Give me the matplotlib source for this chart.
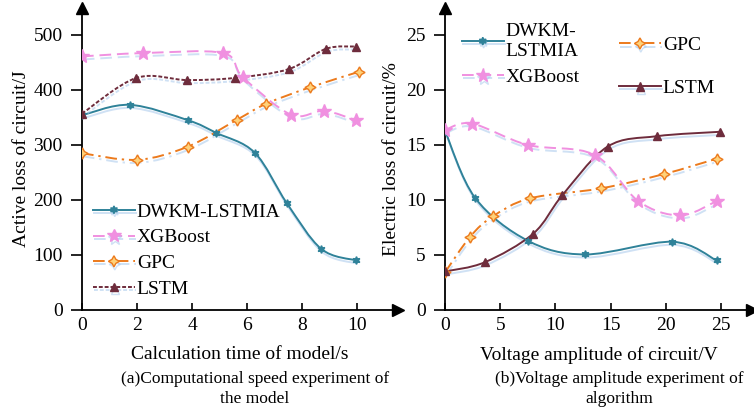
import numpy as np
import matplotlib.pyplot as plt
import matplotlib.patheffects as pe
from matplotlib.path import Path
from matplotlib.patches import PathPatch
from matplotlib.lines import Line2D

plt.rcParams['font.family'] = ['Liberation Serif', 'DejaVu Serif']
plt.rcParams['font.size'] = 14

# ---- data, panel (a): calculation time (s) vs active loss (J)
a_dwkm_x = [0, 1.73, 3.85, 4.88, 6.28, 7.45, 8.70, 9.98]
a_dwkm_y = [354, 373, 345, 322, 286, 194, 111, 90]
a_xgb_x = [0, 2.22, 5.13, 5.85, 7.6, 8.8, 9.95]
a_xgb_y = [461, 467, 467, 423, 355, 362, 345]
a_gpc_x = [0, 2.0, 3.85, 5.64, 6.7, 8.3, 10.07]
a_gpc_y = [285, 273, 297, 346, 375, 405, 433]
a_lstm_x = [0, 1.98, 3.83, 5.58, 7.52, 8.88, 9.98]
a_lstm_y = [357, 422, 418, 422, 438, 475, 479]

# ---- data, panel (b): voltage amplitude (V) vs electric loss (%)
b_dwkm_x = [0, 2.72, 7.5, 12.7, 20.6, 24.6]
b_dwkm_y = [16.3, 10.2, 6.3, 5.05, 6.2, 4.5]
b_xgb_x = [0, 2.42, 7.5, 13.54, 17.5, 21.3, 24.6]
b_xgb_y = [16.35, 16.95, 15.0, 14.1, 9.9, 8.6, 9.9]
b_gpc_x = [0, 2.27, 4.32, 7.7, 14.1, 19.8, 24.6]
b_gpc_y = [3.42, 6.65, 8.5, 10.15, 11.05, 12.35, 13.75]
b_lstm_x = [0, 3.63, 8.0, 10.64, 14.72, 19.2, 24.94]
b_lstm_y = [3.5, 4.35, 6.95, 10.45, 14.85, 15.8, 16.2]

labels = ['DWKM-LSTMIA', 'XGBoost', 'GPC', 'LSTM']
colors = ['#2f8299', '#f090e0', '#ec7a1c', '#6e2c3c']
shadow = [pe.SimpleLineShadow(offset=(0.6, -2.2), shadow_color='#a9c9ec', alpha=0.55),
          pe.Normal()]


def smooth_path(x, y):
    # Catmull-Rom spline through the points, drawn as cubic Bezier segments
    p = np.column_stack([x, y]).astype(float)
    ext = np.vstack([p[0], p, p[-1]])
    verts = [p[0]]
    codes = [Path.MOVETO]
    for i in range(len(p) - 1):
        p0, p1, p2, p3 = ext[i], ext[i + 1], ext[i + 2], ext[i + 3]
        verts += [p1 + (p2 - p0) / 6, p2 - (p3 - p1) / 6, p2]
        codes += [Path.CURVE4] * 3
    return Path(verts, codes)


def series(ax, x, y, color, ls, marker, ms, mfc=None):
    patch = PathPatch(smooth_path(x, y), fill=False, edgecolor=color, lw=1.4,
                      linestyle=ls, path_effects=shadow, zorder=3)
    ax.add_patch(patch)
    ax.plot(x, y, ls='none', marker=marker, ms=ms, color=color,
            mfc=mfc if mfc else color, mec=color, zorder=4)
    return Line2D([], [], color=color, lw=1.4, ls=ls, marker=marker, ms=ms,
                  mfc=mfc if mfc else color, mec=color, path_effects=shadow)


def style_axes(ax, xmax, ymax, xticks, yticks):
    ax.set_xlim(0, xmax)
    ax.set_ylim(0, ymax)
    ax.set_xticks(xticks)
    ax.set_yticks(yticks)
    for s in ['top', 'right']:
        ax.spines[s].set_visible(False)
    for s in ['left', 'bottom']:
        ax.spines[s].set_linewidth(1.3)
    ax.tick_params(axis='x', direction='in', length=5, width=1.2, pad=5)
    ax.tick_params(axis='y', direction='out', length=8, width=1.2, pad=6)
    ax.plot(1, 0, '>k', ms=8, transform=ax.get_yaxis_transform(), clip_on=False)
    ax.plot(0, 1, '^k', ms=8, transform=ax.get_xaxis_transform(), clip_on=False)


fig = plt.figure(figsize=(7.54, 4.13), dpi=100)
ax1 = fig.add_axes([82 / 754, 103 / 413, 316 / 754, 302 / 413])
ax2 = fig.add_axes([445 / 754, 103 / 413, 307 / 754, 302 / 413])

h = []
h.append(series(ax1, a_dwkm_x, a_dwkm_y, colors[0], '-', (6, 1, 0), 5.5))
h.append(series(ax1, a_xgb_x, a_xgb_y, colors[1], (0, (6, 3)), '*', 10))
h.append(series(ax1, a_gpc_x, a_gpc_y, colors[2], (0, (6, 2.5, 1.2, 2.5)), (4, 1, 0), 8, '#ffd27a'))
h.append(series(ax1, a_lstm_x, a_lstm_y, colors[3], (0, (2, 1)), '^', 6))
style_axes(ax1, 11.49, 549, [0, 2, 4, 6, 8, 10], [0, 100, 200, 300, 400, 500])
ax1.legend(h, labels, loc='lower left', bbox_to_anchor=(0.035, 0.04), frameon=False,
           borderpad=0, borderaxespad=0, handlelength=2.15, handletextpad=0.1,
           labelspacing=0.42)
ax1.set_xlabel('Calculation time of model/s')
ax1.set_ylabel('Active loss of circuit/J')
ax1.xaxis.set_label_coords(0.5, -0.12)
ax1.yaxis.set_label_coords(-0.165, 0.5)

h2 = []
h2.append(series(ax2, b_dwkm_x, b_dwkm_y, colors[0], '-', (6, 1, 0), 5.5))
h2.append(series(ax2, b_xgb_x, b_xgb_y, colors[1], (0, (6, 3)), '*', 10))
h2.append(series(ax2, b_gpc_x, b_gpc_y, colors[2], (0, (6, 2.5, 1.2, 2.5)), (4, 1, 0), 8, '#ffd27a'))
h2.append(series(ax2, b_lstm_x, b_lstm_y, colors[3], '-', '^', 6))
style_axes(ax2, 27.8, 27.45, [0, 5, 10, 15, 20, 25], [0, 5, 10, 15, 20, 25])
leg_a = ax2.legend(h2[:2], ['DWKM-\nLSTMIA', 'XGBoost'], loc='upper left',
                   bbox_to_anchor=(0.055, 0.95), frameon=False, borderpad=0,
                   borderaxespad=0, handlelength=2.15, handletextpad=0.1,
                   labelspacing=0.45)
ax2.add_artist(leg_a)
ax2.legend(h2[2:], ['GPC', 'LSTM'], loc='upper left', bbox_to_anchor=(0.567, 0.905),
           frameon=False, borderpad=0, borderaxespad=0, handlelength=2.15,
           handletextpad=0.1, labelspacing=1.3)
ax2.set_xlabel('Voltage amplitude of circuit/V')
ax2.set_ylabel('Electric loss of circuit/%')
ax2.xaxis.set_label_coords(0.5, -0.12)
ax2.yaxis.set_label_coords(-0.147, 0.5)

fig.text(255 / 754, 1 - 389 / 413, '(a)Computational speed experiment of\nthe model',
         ha='center', va='center', multialignment='center', linespacing=1.3,
         fontsize=12.5)
fig.text(619 / 754, 1 - 389 / 413, '(b)Voltage amplitude experiment of\nalgorithm',
         ha='center', va='center', multialignment='center', linespacing=1.3,
         fontsize=12.5)

fig.savefig('out.png', dpi=100)
